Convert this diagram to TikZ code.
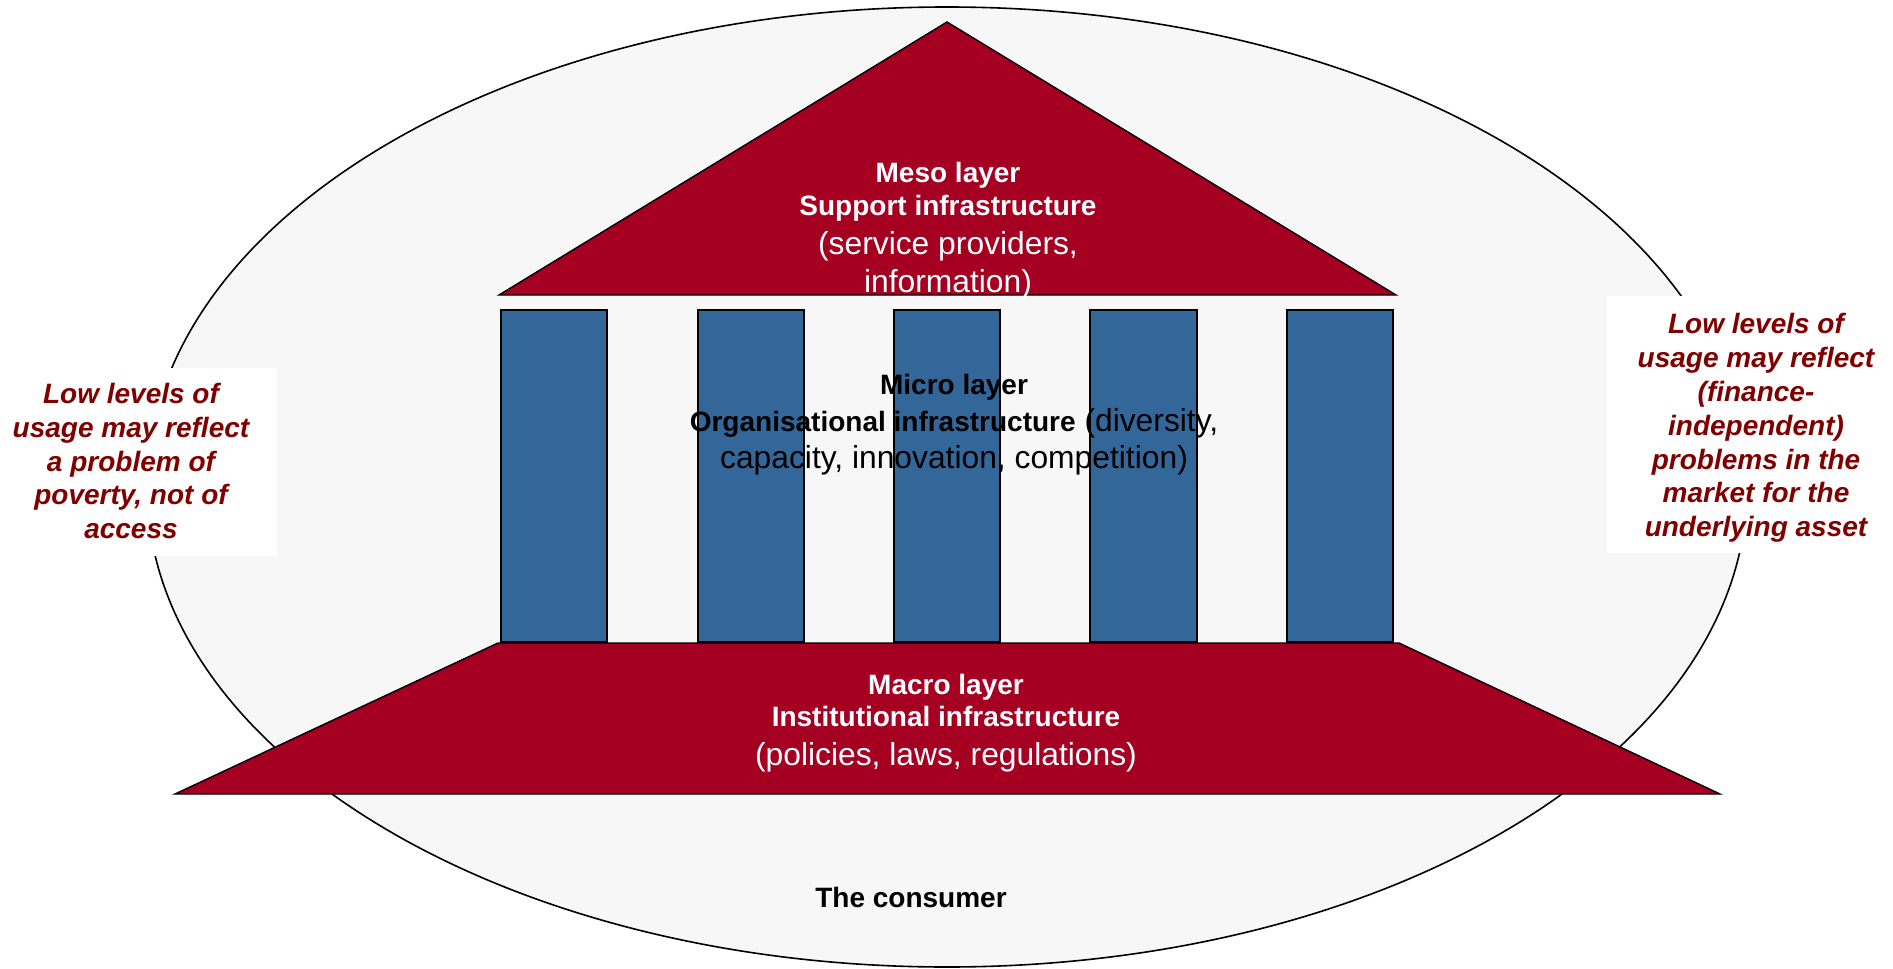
\documentclass[tikz,border=0pt]{standalone}
\usepackage{fontspec}
\setmainfont{Liberation Sans}
\definecolor{roofred}{HTML}{A50021}
\definecolor{colblue}{HTML}{336699}
\definecolor{txtred}{HTML}{800000}
\definecolor{ovalgrey}{HTML}{F7F7F7}
\tikzset{
  boldtxt/.style={font=\fontsize{14}{16.9}\selectfont\bfseries, inner sep=0pt, anchor=base},
  regtxt/.style={font=\fontsize{15.9}{18.5}\selectfont, inner sep=0pt, anchor=base},
  sidetxt/.style={font=\fontsize{14}{16.9}\selectfont\bfseries\itshape, text=txtred, align=center, inner sep=0pt},
  redshape/.style={fill=roofred, draw=black, line width=0.7pt, line join=miter},
  colbox/.style={fill=colblue, draw=black, line width=0.9pt},
  oval/.style={fill=ovalgrey, draw=black, line width=0.8pt}
}
\begin{document}
\begin{tikzpicture}[x=0.5pt,y=-0.5pt]
\useasboundingbox (0,0) rectangle (1893,968);
% consumer oval
\draw[oval] (947,487) ellipse [x radius=400pt, y radius=240pt];
% white boxes behind side notes
\fill[white] (0,368) rectangle (277,556);
\fill[white] (1607,296) rectangle (1893,553);
% roof
\draw[redshape] (499,295) -- (947,22) -- (1396,295) -- cycle;
% columns
\foreach \xa/\xb in {501/607, 698/804, 894/1000, 1090/1197, 1287/1393}{
  \draw[colbox] (\xa,310) rectangle (\xb,642);
}
% base
\draw[redshape] (498,643) -- (1399,643) -- (1720,794) -- (175,794) -- cycle;
% meso text
\node[boldtxt,text=white] (meso1) at (948,183) {Meso layer};
\node[boldtxt,text=white] (meso2) at (948,216) {Support infrastructure};
\node[regtxt,text=white] (meso3) at (948,255) {(service providers,};
\node[regtxt,text=white] (meso4) at (948,292) {information)};
% micro text
\node[boldtxt] (micro1) at (954,394) {Micro layer};
\node[regtxt] (micro2) at (954,431) {{\fontsize{14}{16.9}\selectfont\bfseries Organisational infrastructure} (diversity,};
\node[regtxt] (micro3) at (954,468) {capacity, innovation, competition)};
% macro text
\node[boldtxt,text=white] (macro1) at (946,694) {Macro layer};
\node[boldtxt,text=white] (macro2) at (946,726) {Institutional infrastructure};
\node[regtxt,text=white] (macro3) at (946,765) {(policies, laws, regulations)};
% consumer
\node[boldtxt] (consumer) at (911,907) {The consumer};
% side notes
\node[sidetxt] (leftnote) at (131,461) {Low levels of\\usage may reflect\\a problem of\\poverty, not of\\access};
\node[sidetxt] (rightnote) at (1756,428) {Low levels of\\usage may reflect\\(finance-\\independent)\\problems in the\\market for the\\underlying asset};
\end{tikzpicture}
\end{document}
